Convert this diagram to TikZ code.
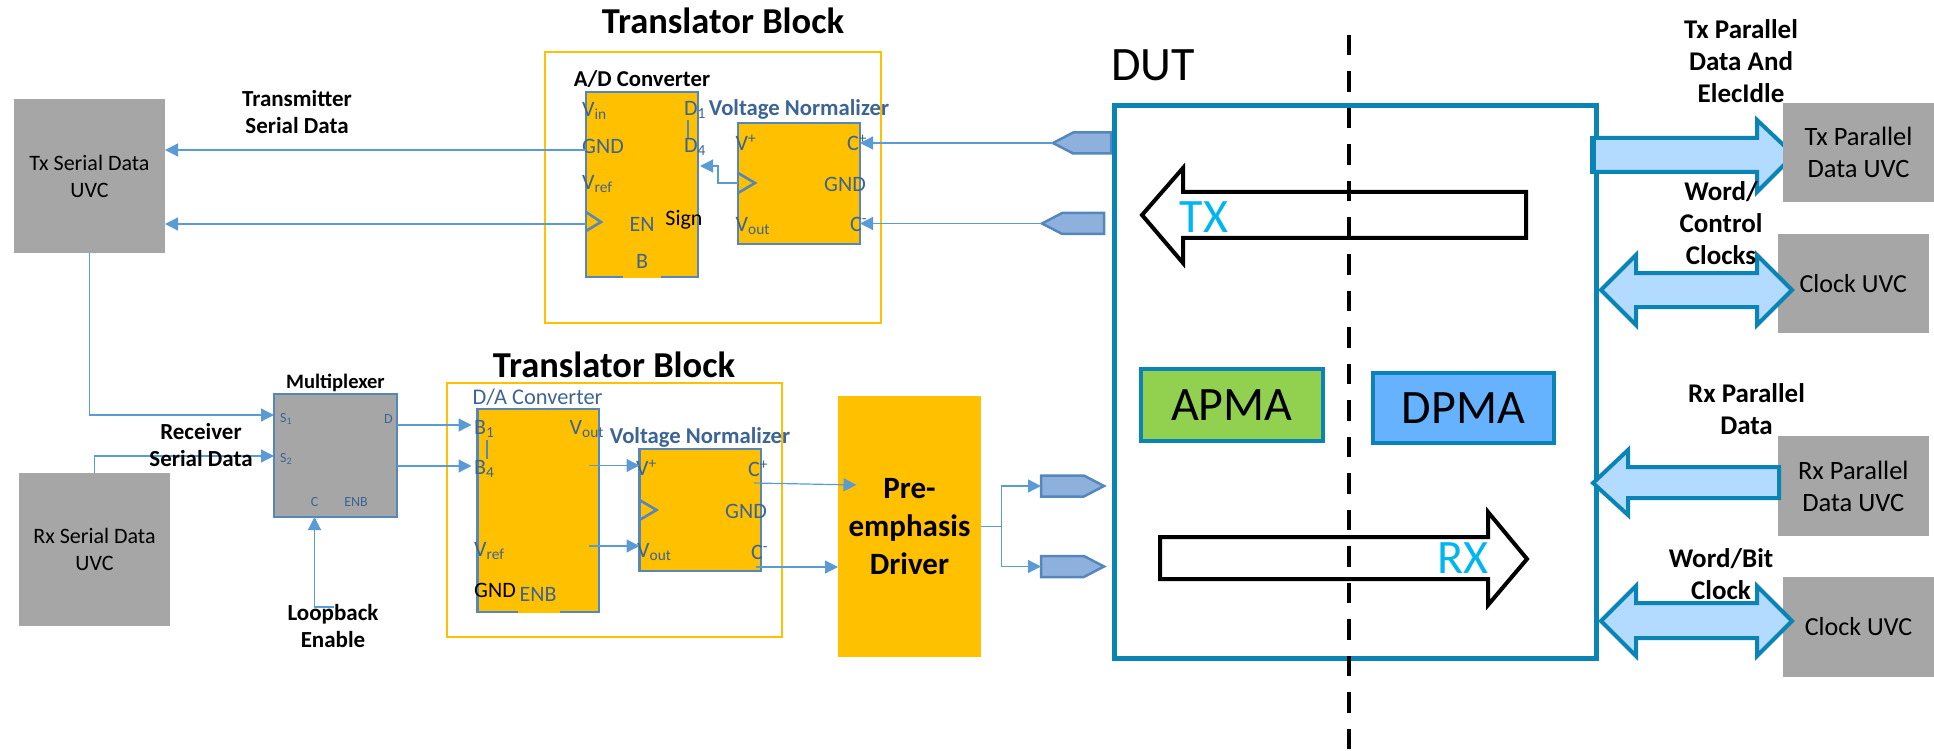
\documentclass[tikz,border=0pt]{standalone}
\usepackage{fontspec}
\setsansfont{Carlito}
\usetikzlibrary{arrows.meta, shapes.symbols}
\definecolor{cblue}{HTML}{5B9BD5}
\definecolor{cedge}{HTML}{5587BC}
\definecolor{cyellow}{HTML}{FFC000}
\definecolor{cgrey}{HTML}{A6A6A6}
\definecolor{cteal}{HTML}{0A83B5}
\definecolor{clight}{HTML}{B3DAFF}
\definecolor{cport}{HTML}{3C6494}
\definecolor{ccyan}{HTML}{00B6F0}
\definecolor{cgreen}{HTML}{92D050}
\definecolor{csky}{HTML}{66B2FF}
\definecolor{cpenta}{HTML}{8DB1DC}
\tikzset{
  every picture/.style={font=\sffamily},
  box/.style={draw=cedge, fill=#1, line width=2.6pt, inner sep=0pt, outer sep=0pt, anchor=north west, align=center},
  box/.default=cyellow,
  uvc/.style={fill=cgrey, inner sep=0pt, outer sep=0pt, anchor=north west, align=center, font=\sffamily\fontsize{#1}{32}\selectfont},
  uvc/.default=26.5,
  serialuvc/.style={uvc, font=\sffamily\fontsize{22}{27}\selectfont},
  frame/.style={draw=cyellow, line width=2pt},
  pma/.style={draw=cteal, fill=#1, line width=4pt, inner sep=0pt, outer sep=0pt, anchor=north west, font=\sffamily\fontsize{48}{52}\selectfont},
  arrow/.style={-{Triangle[length=13pt, width=13pt]}, draw=cblue, line width=1.2pt},
  title/.style={font=\sffamily\bfseries\fontsize{36.5}{40}\selectfont, inner sep=0pt},
  note/.style={font=\sffamily\bfseries\fontsize{23}{27}\selectfont, align=center, inner sep=0pt},
  bignote/.style={font=\sffamily\bfseries\fontsize{27}{32}\selectfont, align=center, inner sep=0pt},
  port/.style={text=cport, font=\sffamily\fontsize{22}{26}\selectfont, inner sep=0pt, anchor=west},
  minport/.style={text=cport, font=\sffamily\fontsize{14}{16}\selectfont, inner sep=0pt},
  head/.style={font=\sffamily\bfseries\fontsize{22.7}{26}\selectfont, inner sep=0pt},
  penta/.style={signal, signal to=#1, draw=cedge, fill=cpenta, line width=2.5pt, inner sep=0pt, outer sep=0pt, minimum height=21pt},
  fat/.style={draw=cteal, fill=clight, line width=4pt, line join=miter},
  hollow/.style={draw=black, fill=white, line width=4pt, line join=miter},
  clockmark/.style={draw=cedge, line width=2.6pt},
}
\begin{document}
\begin{tikzpicture}[x=1pt, y=-1pt]
  \useasboundingbox (0,0) rectangle (1934,751);
  % translator frames
  \draw[frame] (545,52) rectangle (881,323);
  \draw[frame] (447,383) rectangle (781.5,637);
  \node[title] (tbtop) at (723,21) {Translator Block};
  \node[title] (tbbot) at (614,365) {Translator Block};
  % serial side
  \node[serialuvc] (txuvc) at (14,99) [minimum width=151, minimum height=154] {Tx Serial Data\\UVC};
  \node[serialuvc] (rxuvc) at (19,473) [minimum width=151, minimum height=153] {Rx Serial Data\\UVC};
  \node[note] (txnote) at (297,112.5) {Transmitter\\Serial Data};
  \node[note, font=\sffamily\bfseries\fontsize{20.5}{24}\selectfont] (muxtitle) at (335.5,383) {Multiplexer};
  \node[box=cgrey] (mux) at (274,394) [minimum width=123, minimum height=123] {};
  \node[minport, anchor=west] (muxsa) at (280,419) {S\textsubscript{1}};
  \node[minport, anchor=west] (muxsb) at (280,459) {S\textsubscript{2}};
  \node[minport, anchor=west] (muxd) at (384,419) {D};
  \node[minport] (muxc) at (314.5,502) {C};
  \node[minport] (muxenb) at (356,502) {ENB};
  % A/D converter
  \node[head] (adctitle) at (642,79) {A/D Converter};
  \node[box] (adc) at (586,92) [minimum width=112, minimum height=185] {};
  \draw[cyellow, line width=2.6pt] (623,277) -- (661,277);
  \node[port] (adcvin) at (582,111) {V\textsubscript{in}};
  \node[port] (adcdone) at (684,110) {D\textsubscript{1}};
  \node[port] (adcdfour) at (684,147) {D\textsubscript{4}};
  \node[port] (adcgnd) at (582,146) {GND};
  \node[port] (adcvref) at (582,184) {V\textsubscript{ref}};
  \node[port, anchor=center] (adcen) at (642,224) {EN};
  \node[port, anchor=center, text=black] (adcsign) at (684,220) {Sign};
  \node[port, anchor=center] (adcb) at (642,261) {B};
  \draw[cedge, line width=2pt] (688,120) -- (688,138);
  \draw[clockmark] (586,212) -- (601,222) -- (586,231);
  % normalizer on the Tx path
  \node[head, text=cport] (nrmtitleT) at (799,109) {Voltage Normalizer};
  \node[box] (nrmT) at (738,123) [minimum width=122, minimum height=121] {};
  \node[port] (nrmTv) at (735.5,143) {V\textsuperscript{+}};
  \node[port] (nrmTcp) at (847,143) {C\textsuperscript{+}};
  \node[port, anchor=center] (nrmTgnd) at (845,184) {GND};
  \node[port] (nrmTout) at (735.5,226) {V\textsubscript{out}};
  \node[port] (nrmTcm) at (850,224) {C\textsuperscript{-}};
  \draw[clockmark] (738,173) -- (755,183) -- (738,193);
  % D/A converter
  \node[font=\sffamily\fontsize{22.4}{26}\selectfont, text=cport, inner sep=0pt] (dactitle) at (537.5,397) {D/A Converter};
  \node[box] (dac) at (477.5,409) [minimum width=121.5, minimum height=203] {};
  \draw[cyellow, line width=2.6pt] (518,612) -- (560,612);
  \node[port] (dacbone) at (474,429) {B\textsubscript{1}};
  \node[port] (dacbfour) at (474,469) {B\textsubscript{4}};
  \node[port] (dacvout) at (569.5,429) {V\textsubscript{out}};
  \node[port] (dacvref) at (474,551) {V\textsubscript{ref}};
  \node[port, text=black] (dacgnd) at (474,590) {GND};
  \node[port] (dacenb) at (519.5,594) {ENB};
  \draw[cedge, line width=2pt] (487,440) -- (487,459);
  % normalizer on the Rx path
  \node[head, text=cport] (nrmtitleR) at (700,437) {Voltage Normalizer};
  \node[box] (nrmR) at (639.5,449) [minimum width=121.5, minimum height=122] {};
  \node[port] (nrmRv) at (636,468) {V\textsuperscript{+}};
  \node[port] (nrmRcp) at (748,469) {C\textsuperscript{+}};
  \node[port, anchor=center] (nrmRgnd) at (746,511) {GND};
  \node[port] (nrmRout) at (637,552) {V\textsubscript{out}};
  \node[port] (nrmRcm) at (751,552) {C\textsuperscript{-}};
  \draw[clockmark] (639.5,500) -- (656.5,510) -- (639.5,520);
  % driver
  \node[fill=cyellow, inner sep=0pt, outer sep=0pt, anchor=north west, minimum width=143, minimum height=261, align=center, font=\sffamily\bfseries\fontsize{31}{38}\selectfont] (drv) at (838,396) {Pre-\\emphasis\\Driver};
  % pads
  \node[penta=west, signal pointer angle=55, minimum width=58, anchor=east] (padTa) at (1111,143) {};
  \node[penta=west, signal pointer angle=55, minimum width=62, anchor=east] (padTb) at (1104,223.5) {};
  \node[penta=east, signal pointer angle=55, minimum width=63, anchor=west] (padRa) at (1041,486) {};
  \node[penta=east, signal pointer angle=55, minimum width=63, anchor=west] (padRb) at (1041,566.5) {};
  % DUT
  \node[font=\sffamily\fontsize{48}{52}\selectfont, inner sep=0pt, anchor=west] (duttitle) at (1111,65) {DUT};
  \node[draw=cteal, line width=5pt, inner sep=0pt, outer sep=0pt, anchor=north west, minimum width=482, minimum height=552] (dut) at (1114,106) {};
  \draw[fat] (1593,138) -- (1757,138) -- (1757,120) -- (1794,155) -- (1757,192) -- (1757,172) -- (1593,172) -- cycle;
  \draw[cteal, line width=6pt] (1593,136) -- (1593,174);
  \draw[hollow] (1142,215) -- (1183,168) -- (1183,192) -- (1526,192) -- (1526,238) -- (1183,238) -- (1183,263) -- cycle;
  \draw[hollow] (1160,537) -- (1488,537) -- (1488,512) -- (1527,559) -- (1488,605) -- (1488,579) -- (1160,579) -- cycle;
  \node[pma=cgreen] (apma) at (1141,369) [minimum width=181.5, minimum height=71.5] {APMA};
  \node[pma=csky] (dpma) at (1372.5,373) [minimum width=181.5, minimum height=70] {DPMA};
  \draw[line width=4pt, dash pattern=on 20.5pt off 16pt] (1349,35) -- (1349,751);
  \node[font=\sffamily\fontsize{48}{52}\selectfont, text=ccyan, inner sep=0pt] (txtag) at (1204,217) {TX};
  \node[font=\sffamily\fontsize{48}{52}\selectfont, text=ccyan, inner sep=0pt] (rxtag) at (1462.5,558) {RX};
  % parallel side
  \node[uvc] (txpuvc) at (1783,103) [minimum width=151, minimum height=99] {Tx Parallel\\Data UVC};
  \node[uvc=26] (clkuvca) at (1778,234) [minimum width=150.5, minimum height=99] {Clock UVC};
  \node[uvc] (rxpuvc) at (1778,436) [minimum width=150.5, minimum height=100] {Rx Parallel\\Data UVC};
  \node[uvc=26] (clkuvcb) at (1783,577) [minimum width=151, minimum height=100] {Clock UVC};
  \draw[fat] (1601,290) -- (1636,255) -- (1636,273) -- (1757,273) -- (1757,255) -- (1792,290) -- (1757,325) -- (1757,307) -- (1636,307) -- (1636,325) -- cycle;
  \draw[fat] (1593,483) -- (1628,450) -- (1628,467) -- (1779,467) -- (1779,498) -- (1628,498) -- (1628,515) -- cycle;
  \draw[fat] (1601,621) -- (1636,586) -- (1636,603) -- (1757,603) -- (1757,586) -- (1792,621) -- (1757,656) -- (1757,638) -- (1636,638) -- (1636,656) -- cycle;
  \node[bignote] (txpnote) at (1741,61) {Tx Parallel\\Data And\\ElecIdle};
  \node[bignote] (clknotea) at (1721,223) {Word/\\Control\\Clocks};
  \node[bignote] (rxpnote) at (1746.5,409.5) {Rx Parallel\\Data};
  \node[bignote] (clknoteb) at (1721,574.5) {Word/Bit\\Clock};
  % connectors
  \coordinate (adcline) at (586,150);
  \coordinate (adcclock) at (586,224);
  \coordinate (nrmTclock) at (738,183);
  \coordinate (adcback) at (700,166);
  \coordinate (muxa) at (274,415);
  \coordinate (muxb) at (274,456);
  \coordinate (loop) at (334,607);
  \coordinate (dacouta) at (589,465.5);
  \coordinate (dacoutb) at (589,546);
  \coordinate (nrmRoutp) at (754,483);
  \coordinate (nrmRoutm) at (755.5,567);
  \coordinate (drvinp) at (856.5,485);
  \coordinate (split) at (1001.5,526.5);
  \draw[arrow] (adcline) -- (txuvc.east |- adcline);
  \draw[arrow] (adcclock) -- (txuvc.east |- adcclock);
  \draw[arrow] (padTa.west) -- (nrmT.east |- padTa.west);
  \draw[arrow] (padTb.west) -- (nrmT.east |- padTb.west);
  \draw[arrow] (nrmTclock) -| (718,166) -- (adcback);
  \draw[arrow] (txuvc.south) |- (muxa);
  \draw[arrow] (rxuvc.north) |- (muxb);
  \draw[arrow] (loop) -| (muxc.center |- mux.south);
  \draw[arrow] (mux.east |- 0,425) -- (471.5,425);
  \draw[arrow] (mux.east |- 0,466) -- (471.5,466);
  \draw[arrow] (dacouta) -- (nrmR.west |- dacouta);
  \draw[arrow] (dacoutb) -- (nrmR.west |- dacoutb);
  \draw[arrow] (nrmRoutp) -- (drvinp);
  \draw[arrow] (nrmRoutm) -- (drv.west |- nrmRoutm);
  \draw[cblue, line width=1.2pt] (drv.east |- split) -- (split);
  \draw[arrow] (split) |- (padRa.west);
  \draw[arrow] (split) |- (padRb.west);
  \node[note] (rxnote) at (201,445.5) {Receiver\\Serial Data};
  \node[note] (loopnote) at (333,626.5) {Loopback\\Enable};
\end{tikzpicture}
\end{document}
